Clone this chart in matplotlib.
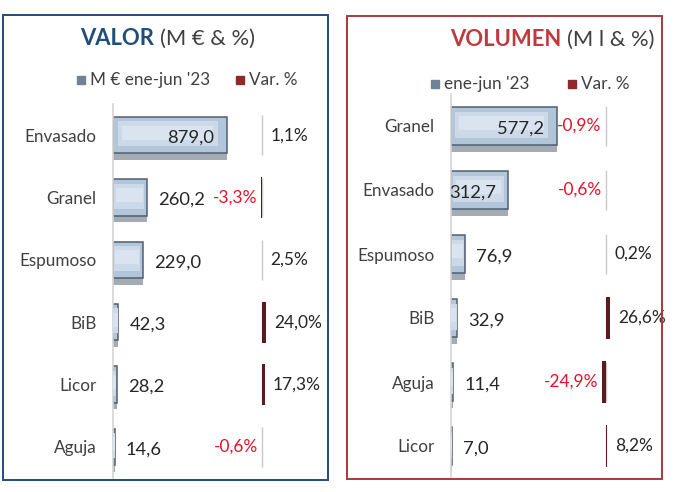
import matplotlib
matplotlib.use('Agg')
import matplotlib.pyplot as plt
from matplotlib.patches import Rectangle

plt.rcParams['font.family'] = ['Lato', 'DejaVu Sans']

# datos
valor_cats = ['Envasado', 'Granel', 'Espumoso', 'BiB', 'Licor', 'Aguja']
valor_vals = [879.0, 260.2, 229.0, 42.3, 28.2, 14.6]
valor_var = [1.1, -3.3, 2.5, 24.0, 17.3, -0.6]

vol_cats = ['Granel', 'Envasado', 'Espumoso', 'BiB', 'Aguja', 'Licor']
vol_vals = [577.2, 312.7, 76.9, 32.9, 11.4, 7.0]
vol_var = [-0.9, -0.6, 0.2, 26.6, -24.9, 8.2]

W, H = 678, 492
fig = plt.figure(figsize=(W / 100, H / 100), dpi=100)


def px_axes(x0, y0, x1, y1):
    # pixel box (top-left origin) -> axes
    return fig.add_axes([x0 / W, 1 - y1 / H, (x1 - x0) / W, (y1 - y0) / H])


def fmt(v, pct=False):
    s = f"{v:.1f}".replace('.', ',')
    return s + '%' if pct else s


def panel(cats, vals, varp, val_box, var_box, xmax, var_lim):
    n = len(cats)
    ax = px_axes(*val_box)
    ax.set_xlim(0, xmax)
    ax.set_ylim(n - 0.5, -0.5)
    ax.set_facecolor('none')
    for s in ['top', 'right', 'bottom']:
        ax.spines[s].set_visible(False)
    ax.spines['left'].set_color('#d4d4d4')
    ax.spines['left'].set_linewidth(1.2)
    ax.set_xticks([])
    ax.set_yticks(range(n))
    ax.set_yticklabels(cats, fontsize=12.3, color='#404040')
    ax.tick_params(axis='y', length=0, pad=12)

    y = list(range(n))
    # sombra, cara y brillo de la barra
    ax.barh([i + 0.1 for i in y], vals, height=0.6, color='#a3acb5', zorder=1)
    ax.barh(y, vals, height=0.58, color='#b3c5d8', edgecolor='#4f5f70',
            linewidth=1.1, zorder=2)
    ax.barh([i - 0.02 for i in y], [v * 0.88 for v in vals], left=[v * 0.04 for v in vals],
            height=0.4, color='#cbd9e8', zorder=3)
    ax.barh([i - 0.04 for i in y], [v * 0.8 for v in vals], left=[v * 0.08 for v in vals],
            height=0.22, color='#d9e4f0', zorder=3)
    for i, v in enumerate(vals):
        if v / xmax > 0.3:
            ax.annotate(fmt(v), (v, i + 0.04), xytext=(-9, 0), textcoords='offset points',
                        ha='right', va='center', fontsize=13.2, color='#262626', zorder=4)
        else:
            ax.annotate(fmt(v), (v, i + 0.04), xytext=(8, 0), textcoords='offset points',
                        ha='left', va='center', fontsize=13.2, color='#262626', zorder=4)

    axv = px_axes(*var_box)
    axv.set_xlim(*var_lim)
    axv.set_ylim(n - 0.5, -0.5)
    axv.axis('off')
    axv.vlines([0] * n, [i - 0.32 for i in y], [i + 0.32 for i in y],
               color='#cfc8c8', linewidth=1.0, zorder=1)
    axv.barh(y, varp, height=0.66, color='#5a1c20', linewidth=0, zorder=2)
    for i, v in enumerate(varp):
        if v >= 0:
            axv.annotate(fmt(v, True), (v, i), xytext=(6, 0), textcoords='offset points',
                         ha='left', va='center', fontsize=12.5, color='#262626')
        else:
            axv.annotate(fmt(v, True), (v, i), xytext=(-3, 0), textcoords='offset points',
                         ha='right', va='center', fontsize=12.5, color='#e3132c')


panel(valor_cats, valor_vals, valor_var, (113, 104, 262, 478), (180, 104, 328, 478),
      1149, (-533, 429))
panel(vol_cats, vol_vals, vol_var, (451, 94, 606, 478), (520, 94, 662, 478),
      845, (-559, 364))

# marcos
fig.patches.append(Rectangle((3 / W, 1 - 480 / H), 325 / W, 465 / H, transform=fig.transFigure,
                             fill=False, edgecolor='#1f4e79', linewidth=1.4))
fig.patches.append(Rectangle((347 / W, 1 - 479 / H), 315 / W, 463 / H, transform=fig.transFigure,
                             fill=False, edgecolor='#a8393d', linewidth=1.4))

# títulos
renderer = fig.canvas.get_renderer()


def two_part_title(x, y, bold, rest, color):
    t = fig.text(x / W, 1 - y / H, bold, fontsize=15.8, fontweight='bold', color=color,
                 ha='left', va='baseline')
    bb = t.get_window_extent(renderer)
    fig.text((bb.x1 + 6) / W, 1 - y / H, rest, fontsize=15.8, color='#404040',
             ha='left', va='baseline')


two_part_title(80, 45, 'VALOR', '(M € & %)', '#1f4e79')
two_part_title(450, 46, 'VOLUMEN', '(M l & %)', '#c0393d')


# leyendas
def legend_item(x, y, label, color):
    fig.patches.append(Rectangle((x / W, 1 - (y + 4) / H), 8 / W, 8 / H,
                                 transform=fig.transFigure, color=color))
    fig.text((x + 13) / W, 1 - y / H, label, fontsize=12.3, color='#404040',
             ha='left', va='center')


legend_item(77, 80, "M € ene-jun '23", '#6f8296')
legend_item(236, 80, 'Var. %', '#8e2a2e')
legend_item(431, 84, "ene-jun '23", '#6f8296')
legend_item(568, 84, 'Var. %', '#8e2a2e')

fig.savefig('out.png', dpi=100)
